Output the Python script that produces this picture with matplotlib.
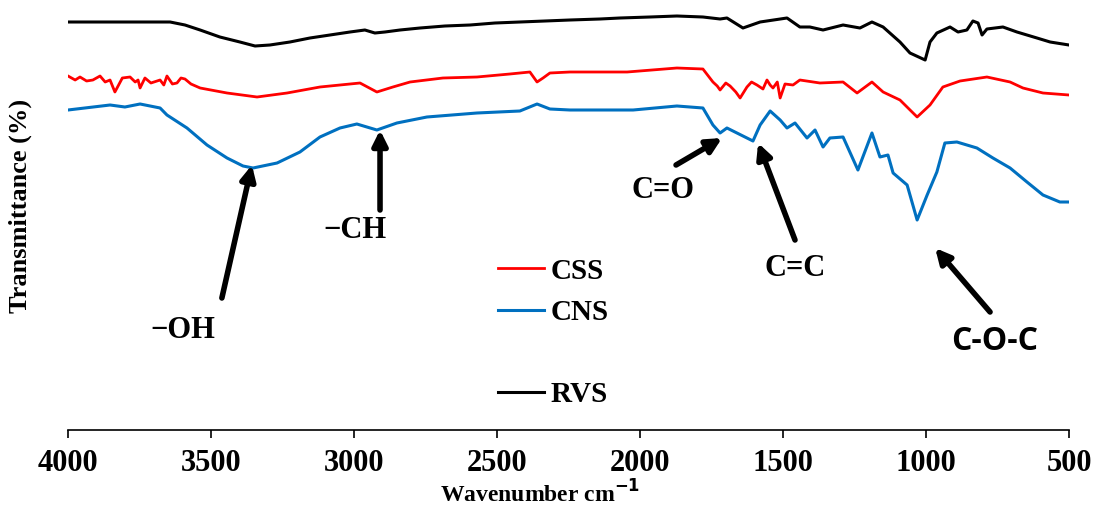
import matplotlib
matplotlib.use("Agg")
import matplotlib.pyplot as plt
from matplotlib.lines import Line2D

# FTIR spectra, offset transmittance (arbitrary units, y axis hidden)
rvs_wn = [4000, 3643, 3591, 3538, 3469, 3399, 3346, 3294, 3224, 3154, 3084, 3014, 2962, 2927,
          2892, 2839, 2769, 2682, 2594, 2507, 2420, 2332, 2245, 2140, 2070, 1965, 1871, 1780,
          1720, 1696, 1640, 1580, 1486, 1441, 1406, 1360, 1290, 1231, 1189, 1150, 1091, 1056,
          1003, 986, 962, 916, 888, 857, 836, 818, 804, 787, 731, 682, 612, 566, 500]
rvs_t = [408, 408, 405, 400, 393, 388, 384, 385, 388, 392, 395, 398, 400, 397,
         398, 400, 402, 404, 405, 407, 408, 409, 410, 411, 412, 413, 414, 413,
         411, 412, 402, 408, 412, 403, 403, 400, 405, 402, 408, 403, 388, 377,
         370, 388, 397, 403, 398, 400, 409, 407, 395, 401, 403, 398, 392, 388, 385]

css_wn = [4000, 3975, 3958, 3935, 3913, 3888, 3870, 3853, 3836, 3810, 3783, 3765, 3755, 3748,
          3731, 3710, 3678, 3665, 3654, 3635, 3619, 3605, 3591, 3570, 3538, 3444, 3339, 3234,
          3119, 2979, 2920, 2864, 2804, 2689, 2570, 2455, 2385, 2360, 2339, 2315, 2245, 2045,
          1871, 1780, 1745, 1730, 1720, 1700, 1685, 1665, 1650, 1626, 1610, 1591, 1570, 1556,
          1545, 1535, 1520, 1510, 1493, 1465, 1441, 1371, 1290, 1241, 1189, 1150, 1091, 1031,
          986, 941, 881, 787, 706, 661, 591, 500]
css_t = [354, 350, 353, 349, 350, 354, 348, 350, 338, 352, 353, 348, 350, 342,
         352, 347, 350, 345, 354, 346, 347, 352, 351, 346, 342, 337, 333, 337,
         343, 347, 338, 343, 348, 352, 353, 356, 358, 348, 352, 357, 358, 358,
         362, 361, 348, 344, 340, 347, 344, 338, 332, 343, 348, 345, 341, 350,
         345, 342, 348, 332, 346, 345, 350, 347, 348, 337, 348, 338, 330, 313,
         325, 343, 349, 353, 348, 342, 337, 335]

cns_wn = [4000, 3853, 3801, 3748, 3678, 3654, 3584, 3514, 3444, 3388, 3353, 3269, 3189, 3119,
          3049, 2990, 2920, 2850, 2745, 2570, 2420, 2360, 2315, 2245, 2024, 1871, 1780, 1745,
          1720, 1696, 1675, 1605, 1580, 1545, 1510, 1486, 1458, 1416, 1388, 1360, 1336, 1290,
          1238, 1189, 1161, 1133, 1115, 1066, 1031, 996, 962, 934, 892, 822, 766, 706, 647,
          591, 532, 500]
cns_t = [320, 325, 323, 326, 322, 315, 302, 285, 272, 264, 262, 267, 278, 293,
         302, 306, 300, 307, 313, 317, 319, 326, 321, 320, 320, 324, 322, 305,
         297, 302, 299, 289, 305, 319, 310, 302, 307, 292, 300, 283, 292, 293,
         260, 297, 273, 275, 257, 245, 210, 235, 258, 287, 288, 282, 272, 262, 248,
         235, 228, 228]

# peak labels: (text, text position, arrow tail, arrow head)
peaks = [
    ("\u2212OH", (3598, 100), (3462, 132), (3357, 265)),
    ("\u2212CH", (2997, 200), (2909, 220), (2909, 300)),
    ("C=O", (1920, 240), (1874, 265), (1713, 292)),
    ("C=C", (1458, 162), (1458, 190), (1587, 287)),
]

serif = "Liberation Serif"

fig = plt.figure(figsize=(10.95, 5.08), dpi=100)
ax = fig.add_axes([68 / 1095, 78 / 508, 1001 / 1095, 430 / 508])

ax.plot(css_wn, css_t, color="#FF0000", lw=2.0, label="CSS")
ax.plot(cns_wn, cns_t, color="#0070C0", lw=2.2, label="CNS")
ax.plot(rvs_wn, rvs_t, color="black", lw=2.2, label="RVS")

ax.set_xlim(4000, 500)
ax.set_ylim(0, 430)
ax.set_xticks([4000, 3500, 3000, 2500, 2000, 1500, 1000, 500])
ax.tick_params(axis="x", direction="out", length=6, width=1.2, pad=8, labelsize=22)
for lbl in ax.get_xticklabels():
    lbl.set_fontfamily(serif)
    lbl.set_fontweight("bold")
ax.set_yticks([])
for s in ["top", "right", "left"]:
    ax.spines[s].set_visible(False)
ax.spines["bottom"].set_linewidth(1.2)

ax.set_xlabel("Wavenumber cm$^{\\mathbf{-1}}$", fontsize=17, fontweight="bold", family=serif)
ax.xaxis.set_label_coords(0.472, -0.118)
ax.set_ylabel("Transmittance (%)", fontsize=19, fontweight="bold", family=serif)
ax.yaxis.set_label_coords(-0.036, 0.52)

for txt, tpos, tail, head in peaks:
    ax.text(tpos[0], tpos[1], txt, fontsize=22, fontweight="bold", family=serif,
            ha="center", va="center")
    ax.annotate("", xy=head, xytext=tail,
                arrowprops=dict(arrowstyle="-|>", lw=4, color="black", mutation_scale=22,
                                shrinkA=0, shrinkB=0))

ax.text(759, 88, "C-O-C", fontsize=23, fontweight="bold", family="Open Sans",
        ha="center", va="center")
ax.annotate("", xy=(968, 182), xytext=(776, 118),
            arrowprops=dict(arrowstyle="-|>", lw=4, color="black", mutation_scale=22,
                            shrinkA=0, shrinkB=0))

handles, labels = ax.get_legend_handles_labels()
blank = Line2D([], [], color="none")
leg = ax.legend(handles[:2] + [blank, handles[2]], labels[:2] + [" ", labels[2]],
                loc="upper left", bbox_to_anchor=(0.403, 0.462), frameon=False,
                prop=dict(family=serif, weight="bold", size=21),
                handlelength=1.6, handletextpad=0.2, labelspacing=0.49)

fig.savefig("out.png", dpi=100)
